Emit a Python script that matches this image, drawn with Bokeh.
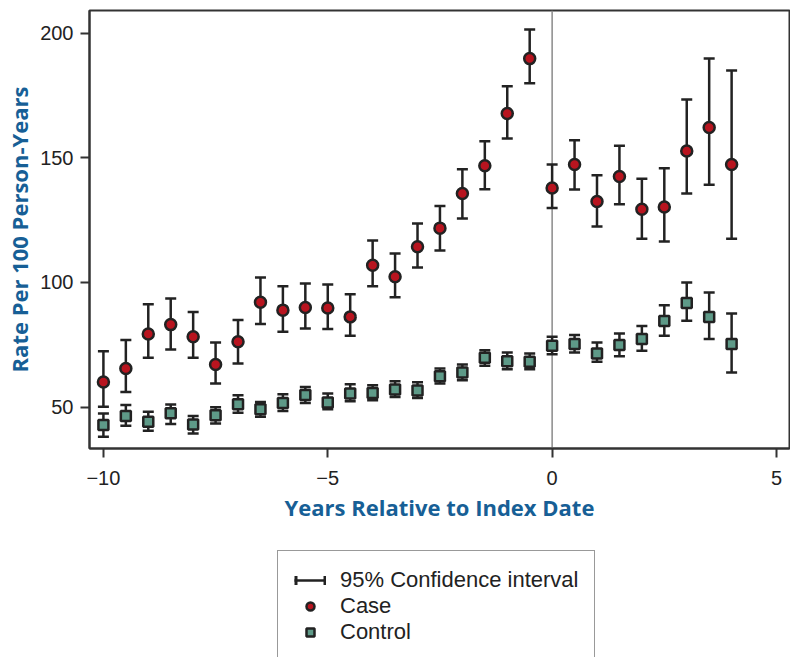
from bokeh.plotting import figure
from bokeh.layouts import column
from bokeh.models import Range1d, FixedTicker, Span, Legend, LegendItem
from bokeh.embed import file_html
from bokeh.resources import INLINE

# ---- data ----
years = [-10, -9.5, -9, -8.5, -8, -7.5, -7, -6.5, -6, -5.5, -5, -4.5, -4, -3.5, -3,
         -2.5, -2, -1.5, -1, -0.5, 0, 0.5, 1, 1.5, 2, 2.5, 3, 3.5, 4]

case_rate = [60.1, 65.5, 79.3, 83.1, 78.2, 67.1, 76.2, 92.1, 88.9, 90.0, 89.8, 86.2, 106.9, 102.3, 114.3,
             121.8, 135.7, 146.8, 167.8, 189.8, 137.9, 147.3, 132.5, 142.5, 129.4, 130.3, 152.7, 162.2, 147.3]
case_lo = [50.1, 56.1, 69.8, 73.1, 69.8, 59.5, 67.5, 83.3, 80.2, 81.5, 81.3, 78.6, 98.5, 94.1, 106.0,
           112.8, 125.7, 137.4, 157.8, 179.9, 129.9, 137.3, 122.5, 131.4, 117.5, 116.4, 135.7, 139.2, 117.5]
case_hi = [72.4, 76.9, 91.3, 93.6, 88.2, 75.9, 84.9, 102.0, 98.5, 99.6, 99.2, 95.3, 116.8, 111.6, 123.7,
           130.7, 145.4, 156.7, 178.7, 201.5, 147.3, 157.1, 143.0, 154.8, 141.6, 145.8, 173.4, 189.8, 185.0]

control_rate = [42.8, 46.4, 44.1, 47.5, 43.0, 46.7, 51.2, 49.1, 51.7, 54.9, 51.9, 55.5, 55.7, 57.1, 56.7,
                62.4, 63.9, 69.8, 68.4, 68.2, 74.6, 75.3, 71.5, 74.9, 77.3, 84.5, 91.8, 86.2, 75.3]
control_lo = [38.1, 42.5, 40.5, 43.2, 39.4, 43.4, 47.7, 46.1, 48.4, 51.7, 49.1, 52.4, 52.8, 54.1, 53.7,
              59.5, 60.8, 66.6, 65.2, 65.2, 71.2, 71.9, 68.2, 70.4, 72.6, 78.6, 84.6, 77.3, 63.9]
control_hi = [47.4, 50.8, 48.1, 51.1, 46.4, 49.9, 54.8, 52.1, 55.2, 58.1, 55.5, 59.2, 58.8, 60.4, 60.0,
              65.5, 67.1, 72.8, 71.9, 71.5, 78.2, 78.9, 75.9, 79.5, 82.5, 90.9, 100.0, 96.0, 87.6]

x_ticks = [-10, -5, 0, 5]
x_tick_labels = ["\u221210", "\u22125", "0", "5"]
y_ticks = [50, 100, 150, 200]
index_year = 0

x_title = "Years Relative to Index Date"
y_title = "Rate Per 100 Person-Years"
legend_labels = ["95% Confidence interval", "Case", "Control"]

# ---- style ----
DARK = "#222222"
FRAME = "#333333"
BLUE = "#175f96"
RED = "#b8141f"
TEAL = "#5e9a88"
FONT = "Liberation Sans"
TITLE_FONT = "Open Sans"


def add_series(fig):
    """Error bars, caps and points of both series on a figure."""
    seg = fig.segment(x0=years + years, y0=case_lo + control_lo, x1=years + years,
                      y1=case_hi + control_hi, line_color=DARK, line_width=2.5)
    fig.scatter(x=years + years, y=case_lo + control_lo, marker="dash", size=11,
                line_color=DARK, line_width=2.5)
    fig.scatter(x=years + years, y=case_hi + control_hi, marker="dash", size=11,
                line_color=DARK, line_width=2.5)
    case = fig.scatter(x=years, y=case_rate, marker="circle", size=11, fill_color=RED,
                       line_color=DARK, line_width=2.5)
    ctrl = fig.scatter(x=years, y=control_rate, marker="square", size=10, fill_color=TEAL,
                       line_color=DARK, line_width=2.5)
    return seg, case, ctrl


p = figure(width=790, height=538, output_backend="svg", toolbar_location=None,
           x_range=Range1d(-10.31, 5.29), y_range=Range1d(33.4, 209.1),
           min_border_left=89, min_border_right=1, min_border_top=10, min_border_bottom=90)
p.background_fill_color = "white"
p.border_fill_color = "white"
p.outline_line_color = FRAME
p.outline_line_width = 2
p.grid.visible = False

for ax in (p.xaxis[0], p.yaxis[0]):
    ax.axis_line_color = FRAME
    ax.axis_line_width = 2
    ax.major_tick_line_color = FRAME
    ax.major_tick_line_width = 2
    ax.major_tick_out = 9
    ax.major_tick_in = 0
    ax.minor_tick_line_color = None
    ax.major_label_text_font = FONT
    ax.major_label_text_font_size = "20px"
    ax.major_label_text_color = DARK
    ax.axis_label_text_font = TITLE_FONT
    ax.axis_label_text_font_size = "22px"
    ax.axis_label_text_font_style = "bold"
    ax.axis_label_text_color = BLUE

p.xaxis.ticker = FixedTicker(ticks=x_ticks)
p.xaxis.major_label_overrides = {t: s for t, s in zip(x_ticks, x_tick_labels)}
p.xaxis.major_label_standoff = 13
p.xaxis.axis_label = x_title
p.xaxis.axis_label_standoff = 4

p.yaxis.ticker = FixedTicker(ticks=y_ticks)
p.yaxis.major_label_standoff = 7
p.yaxis.axis_label = y_title
p.yaxis.axis_label_standoff = 3

# reference line at index date
p.add_layout(Span(location=index_year, dimension="height", line_color="#8a8a8a",
                  line_width=1.5, level="underlay"))

add_series(p)

# ---- legend strip below the chart (its glyphs lie outside its 0..1 view) ----
lg = figure(width=790, height=119, output_backend="svg", toolbar_location=None,
            x_range=Range1d(0, 1), y_range=Range1d(0, 1),
            x_axis_type=None, y_axis_type=None,
            min_border_left=0, min_border_right=0, min_border_top=0, min_border_bottom=0)
lg.outline_line_color = None
lg.grid.visible = False
lg.background_fill_color = "white"
lg.border_fill_color = "white"

leg_seg, leg_case, leg_ctrl = add_series(lg)
leg_caps = lg.line(x=years, y=case_hi, line_color=DARK, line_width=9, line_dash="3 26 3")

legend = Legend(items=[
    LegendItem(label=legend_labels[0], renderers=[leg_seg, leg_caps]),
    LegendItem(label=legend_labels[1], renderers=[leg_case]),
    LegendItem(label=legend_labels[2], renderers=[leg_ctrl]),
], location=(188, -5), padding=16, spacing=0, margin=0,
    glyph_width=32, glyph_height=20, label_height=20, label_standoff=14,
    label_text_font=FONT, label_text_font_size="22px", label_text_color=DARK,
    border_line_color=FRAME, border_line_width=1, background_fill_color="white",
    background_fill_alpha=1)
lg.add_layout(legend)

layout = column(p, lg, spacing=0)
open("out.html", "w").write(file_html(layout, INLINE))
